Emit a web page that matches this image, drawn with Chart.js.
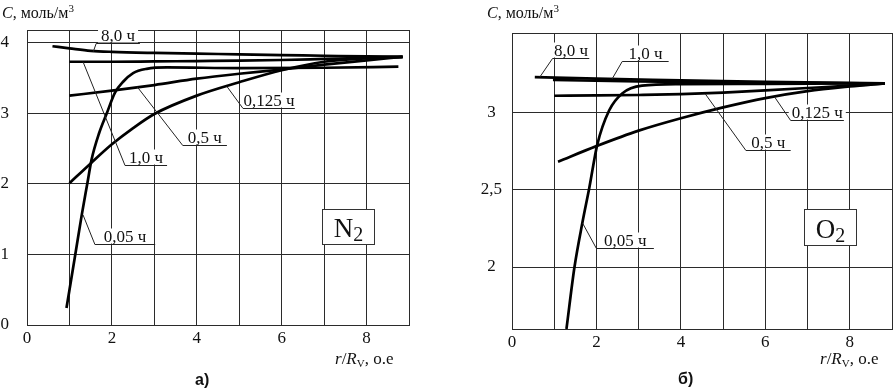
<!DOCTYPE html>
<html lang="ru">
<head>
<meta charset="utf-8">
<script src="https://cdn.jsdelivr.net/npm/chart.js@4"></script>
<style>
  html, body { margin: 0; padding: 0; background: #fff; }
  body { width: 895px; height: 389px; position: relative; overflow: hidden;
         font-family: "Liberation Serif", "DejaVu Serif", serif; color: #111; }
  canvas { position: absolute; top: 0; }
  .txt { position: absolute; white-space: nowrap; font-size: 16px; line-height: 1; }
  .txt .sup { font-size: 11px; position: relative; top: -6px; }
  .txt .sub { font-size: 11px; position: relative; top: 3px; }
  .ax { font-size: 17px; }
  .cap { position: absolute; font-family: "Liberation Sans", Arial, sans-serif;
         font-weight: bold; font-size: 16px; line-height: 1; }
</style>
</head>
<body>
<canvas id="chart-n2" width="445" height="389" style="left:0"></canvas>
<canvas id="chart-o2" width="445" height="389" style="left:450px"></canvas>

<div class="txt" style="left:2px;top:5px"><i>C</i>, моль/м<span class="sup">3</span></div>
<div class="txt" style="left:487px;top:5px"><i>C</i>, моль/м<span class="sup">3</span></div>
<div class="txt ax" style="left:335px;top:350px"><i>r</i>/<i>R</i><span class="sub">V</span>, о.е</div>
<div class="txt ax" style="left:820px;top:350px"><i>r</i>/<i>R</i><span class="sub">V</span>, о.е</div>
<div class="cap" style="left:195px;top:372px">а)</div>
<div class="cap" style="left:678px;top:371px">б)</div>

<script>
/* два графика: концентрация C по радиусу r/Rv для N2 (а) и O2 (б),
 * кривые для разных моментов времени */

var timeLabels = ['8,0 ч', '1,0 ч', '0,5 ч', '0,125 ч', '0,05 ч'];

// оси
var xTicks = [0, 1, 2, 3, 4, 5, 6, 7, 8, 9];
var xTickLabels = ['0', '', '2', '', '4', '', '6', '', '8', ''];
var n2YTicks = [0, 1, 2, 3, 4, 4.18];
var n2YTickLabels = ['0', '1', '2', '3', '4', ''];
var o2YTicks = [1.6, 2, 2.5, 3, 3.51];
var o2YTickLabels = ['', '2', '2,5', '3', ''];

// а) N2
var n2X8h = [0.6, 1, 1.5, 2, 3, 4, 5, 6, 7, 8, 8.85];
var n2Y8h = [3.95, 3.92, 3.885, 3.87, 3.855, 3.845, 3.835, 3.825, 3.815, 3.805, 3.80];
var n2X1h = [1, 2, 3, 4, 5, 6, 7, 8, 8.85];
var n2Y1h = [3.73, 3.73, 3.735, 3.74, 3.745, 3.755, 3.77, 3.785, 3.80];
var n2X05h = [1, 2, 3, 4, 5, 6, 7, 8, 8.85];
var n2Y05h = [3.25, 3.32, 3.40, 3.49, 3.56, 3.62, 3.69, 3.75, 3.80];
var n2X0125h = [1, 1.5, 2, 2.5, 3, 4, 5, 6, 7, 8, 8.85];
var n2Y0125h = [2.01, 2.29, 2.56, 2.79, 2.99, 3.25, 3.44, 3.61, 3.73, 3.78, 3.80];
var n2X005h = [0.93, 1.13, 1.29, 1.42, 1.52, 1.7, 1.88, 2.07, 2.27, 2.5, 2.82, 3.3, 5, 7, 8.75];
var n2Y005h = [0.24, 0.97, 1.56, 2.0, 2.34, 2.72, 3.0, 3.29, 3.45, 3.57, 3.63, 3.65, 3.64, 3.645, 3.66];

// б) O2
var o2X8h = [0.54, 2, 4, 6, 8.83];
var o2Y8h = [3.225, 3.215, 3.205, 3.195, 3.185];
var o2X1h = [0.97, 3, 5, 7, 8.83];
var o2Y1h = [3.207, 3.197, 3.192, 3.188, 3.185];
var o2X05h = [1.0, 2, 3, 4, 5, 6, 7, 8, 8.83];
var o2Y05h = [3.105, 3.107, 3.11, 3.115, 3.125, 3.14, 3.155, 3.17, 3.185];
var o2X0125h = [1.09, 2, 3, 4, 5, 6, 7, 8, 8.83];
var o2Y0125h = [2.68, 2.78, 2.88, 2.96, 3.03, 3.09, 3.135, 3.165, 3.185];
var o2X005h = [1.29, 1.48, 1.67, 1.83, 2.02, 2.3, 2.61, 3.08, 4, 6, 8.83];
var o2Y005h = [1.6, 2.0, 2.29, 2.51, 2.79, 3.01, 3.12, 3.17, 3.18, 3.182, 3.185];

// выноски: точка на кривой, излом, конец полки (в единицах осей)
var n2Leaders = [
  { text: timeLabels[0], anchor: [1.56, 3.87], elbow: [1.63, 4.0], end: 2.66 },
  { text: timeLabels[1], anchor: [1.32, 3.73], elbow: [2.31, 2.27], end: 3.30 },
  { text: timeLabels[2], anchor: [2.59, 3.38], elbow: [3.67, 2.55], end: 4.71 },
  { text: timeLabels[3], anchor: [4.71, 3.38], elbow: [5.09, 3.08], end: 6.31 },
  { text: timeLabels[4], anchor: [1.32, 1.56], elbow: [1.60, 1.15], end: 3.02 }
];
var o2Leaders = [
  { text: timeLabels[0], anchor: [0.66, 3.226], elbow: [0.96, 3.35], end: 1.83 },
  { text: timeLabels[1], anchor: [2.37, 3.213], elbow: [2.61, 3.33], end: 3.71 },
  { text: timeLabels[2], anchor: [4.58, 3.116], elbow: [5.54, 2.755], end: 6.60 },
  { text: timeLabels[3], anchor: [6.22, 3.097], elbow: [6.60, 2.948], end: 7.86 },
  { text: timeLabels[4], anchor: [1.67, 2.284], elbow: [2.0, 2.123], end: 3.36 }
];

var gridColor = '#2b2b2b';
var serif = '"Liberation Serif", "DejaVu Serif", serif';

function toPoints(xs, ys) {
  return xs.map(function (x, i) { return { x: x, y: ys[i] }; });
}

function curve(label, xs, ys) {
  return {
    label: label,
    data: toPoints(xs, ys),
    borderColor: '#000',
    borderWidth: 2.7,
    pointRadius: 0,
    cubicInterpolationMode: 'monotone',
    fill: false
  };
}

// подписи выносок и рамка с формулой газа
var leaderPlugin = {
  id: 'leaders',
  afterDatasetsDraw: function (chart, args, opts) {
    var ctx = chart.ctx;
    var xs = chart.scales.x, ys = chart.scales.y;
    ctx.save();
    ctx.font = '17px ' + serif;
    opts.items.forEach(function (it) {
      var ax = xs.getPixelForValue(it.anchor[0]), ay = ys.getPixelForValue(it.anchor[1]);
      var ex = xs.getPixelForValue(it.elbow[0]), ey = Math.round(ys.getPixelForValue(it.elbow[1])) + 0.5;
      var fx = xs.getPixelForValue(it.end);
      var tw = ctx.measureText(it.text).width;
      var tx = (ex + fx) / 2;
      ctx.fillStyle = '#fff';
      ctx.fillRect(tx - tw / 2 - 3, ey - 16, tw + 6, 15);
      ctx.strokeStyle = '#222';
      ctx.lineWidth = 1;
      ctx.beginPath();
      ctx.moveTo(ax, ay);
      ctx.lineTo(ex, ey);
      ctx.lineTo(fx, ey);
      ctx.stroke();
      ctx.fillStyle = '#111';
      ctx.textAlign = 'center';
      ctx.textBaseline = 'alphabetic';
      ctx.fillText(it.text, tx, ey - 3);
    });

    var g = opts.gas;
    var x0 = Math.round(xs.getPixelForValue(g.x0)) + 0.5, x1 = Math.round(xs.getPixelForValue(g.x1)) + 0.5;
    var y0 = Math.round(ys.getPixelForValue(g.y0)) + 0.5, y1 = Math.round(ys.getPixelForValue(g.y1)) + 0.5;
    ctx.fillStyle = '#fff';
    ctx.fillRect(x0, y0, x1 - x0, y1 - y0);
    ctx.strokeStyle = '#333';
    ctx.strokeRect(x0, y0, x1 - x0, y1 - y0);
    ctx.font = '27px ' + serif;
    var w1 = ctx.measureText(g.main).width;
    ctx.font = '20px ' + serif;
    var w2 = ctx.measureText(g.sub).width;
    var sx = (x0 + x1) / 2 - (w1 + w2) / 2;
    var base = y1 - 8;
    ctx.fillStyle = '#111';
    ctx.textAlign = 'left';
    ctx.font = '27px ' + serif;
    ctx.fillText(g.main, sx, base);
    ctx.font = '20px ' + serif;
    ctx.fillText(g.sub, sx + w1, base + 4);
    ctx.restore();
  }
};

function makeChart(id, datasets, yMin, yMax, yTicks, yTickLabels, box, leaders, gas) {
  return new Chart(document.getElementById(id), {
    type: 'line',
    data: { datasets: datasets },
    options: {
      responsive: false,
      animation: false,
      layout: { padding: { left: 0, right: box.right, top: box.top, bottom: 0 } },
      plugins: {
        legend: { display: false },
        tooltip: { enabled: false },
        leaders: { items: leaders, gas: gas }
      },
      scales: {
        x: {
          type: 'linear',
          min: 0,
          max: 9,
          afterBuildTicks: function (scale) {
            scale.ticks = xTicks.map(function (v) { return { value: v }; });
          },
          afterFit: function (scale) { scale.height = box.xHeight; },
          grid: { color: gridColor, lineWidth: 1, drawTicks: false },
          border: { color: gridColor, width: 1 },
          ticks: {
            padding: 3,
            color: '#111',
            font: { family: serif, size: 17 },
            maxRotation: 0,
            autoSkip: false,
            callback: function (v, i) { return xTickLabels[i]; }
          }
        },
        y: {
          type: 'linear',
          min: yMin,
          max: yMax,
          afterBuildTicks: function (scale) {
            scale.ticks = yTicks.map(function (v) { return { value: v }; });
          },
          afterFit: function (scale) { scale.width = box.yWidth; },
          grid: { color: gridColor, lineWidth: 1, drawTicks: false },
          border: { color: gridColor, width: 1 },
          ticks: {
            padding: box.yPad,
            crossAlign: box.crossAlign,
            color: '#111',
            font: { family: serif, size: 17 },
            autoSkip: false,
            callback: function (v, i) { return yTickLabels[i]; }
          }
        }
      }
    },
    plugins: [leaderPlugin]
  });
}

makeChart('chart-n2', [
  curve(timeLabels[0], n2X8h, n2Y8h),
  curve(timeLabels[1], n2X1h, n2Y1h),
  curve(timeLabels[2], n2X05h, n2Y05h),
  curve(timeLabels[3], n2X0125h, n2Y0125h),
  curve(timeLabels[4], n2X005h, n2Y005h)
], 0, 4.18, n2YTicks, n2YTickLabels,
  { right: 36, top: 30, xHeight: 64, yWidth: 27, yPad: 18, crossAlign: 'near' },
  n2Leaders, { main: 'N', sub: '2', x0: 6.95, x1: 8.18, y0: 1.65, y1: 1.15 });

makeChart('chart-o2', [
  curve(timeLabels[0], o2X8h, o2Y8h),
  curve(timeLabels[1], o2X1h, o2Y1h),
  curve(timeLabels[2], o2X05h, o2Y05h),
  curve(timeLabels[3], o2X0125h, o2Y0125h),
  curve(timeLabels[4], o2X005h, o2Y005h)
], 1.6, 3.51, o2YTicks, o2YTickLabels,
  { right: 1, top: 33, xHeight: 60, yWidth: 62, yPad: 10, crossAlign: 'center' },
  o2Leaders, { main: 'O', sub: '2', x0: 6.92, x1: 8.15, y0: 2.374, y1: 2.142 });
</script>
</body>
</html>
